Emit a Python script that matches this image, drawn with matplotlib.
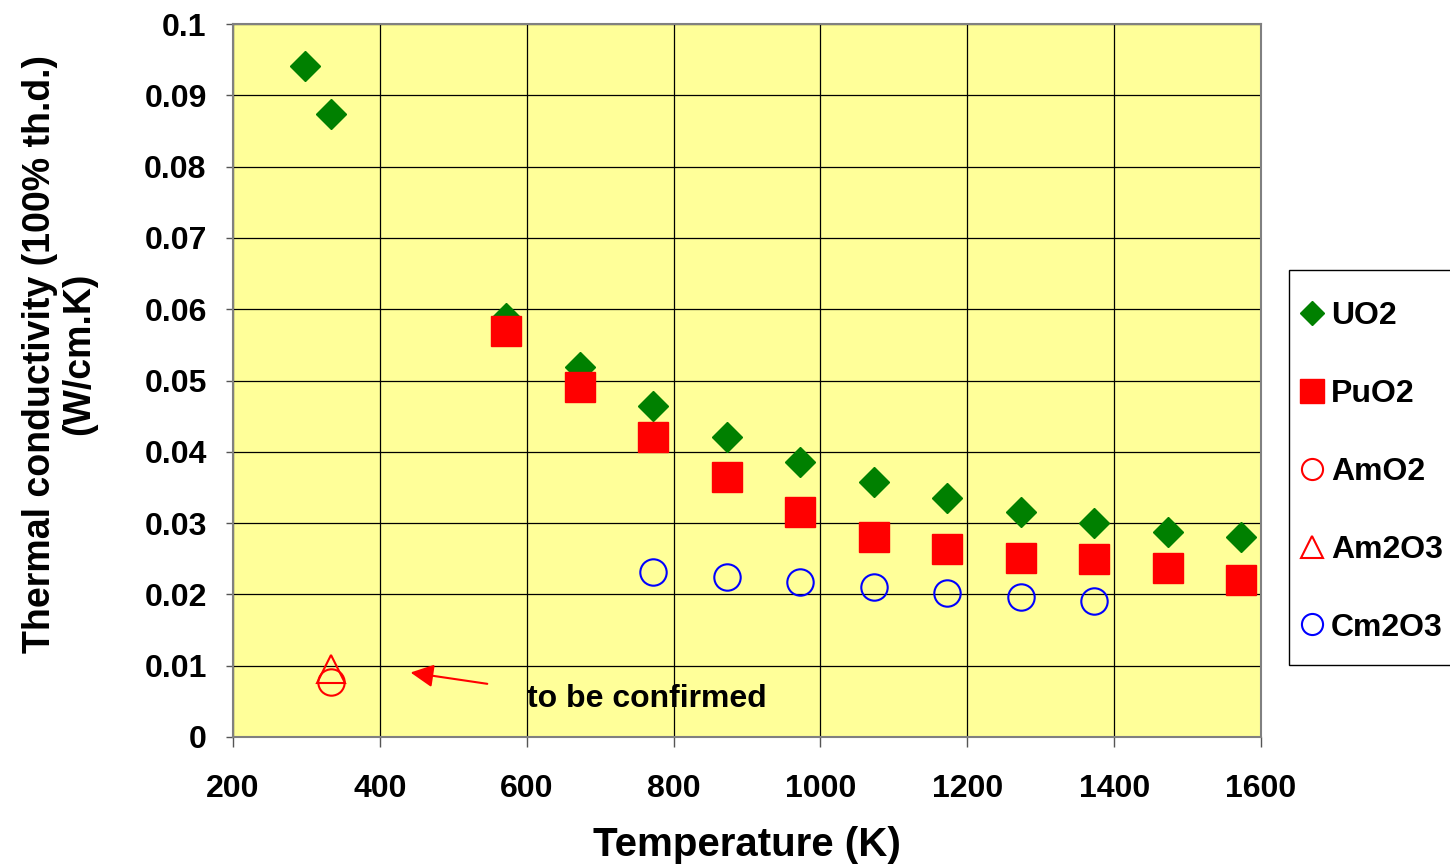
import numpy as np
import matplotlib
matplotlib.use('Agg')
import matplotlib.pyplot as plt
from matplotlib.patches import Rectangle

plt.rcParams['font.family'] = ['Liberation Sans', 'DejaVu Sans']
plt.rcParams['font.weight'] = 'bold'

# dados
temp_uo2 = [298, 333, 572, 673, 772, 873, 972, 1073, 1172, 1273, 1373, 1473, 1573]
k_uo2 = [0.0941, 0.0874, 0.0588, 0.0519, 0.0464, 0.0421, 0.0386, 0.0358, 0.0335, 0.0315, 0.0300, 0.0288, 0.0280]

temp_puo2 = [572, 673, 772, 873, 972, 1073, 1172, 1273, 1373, 1473, 1573]
k_puo2 = [0.0569, 0.0491, 0.0421, 0.0364, 0.0315, 0.0281, 0.0263, 0.0251, 0.0249, 0.0237, 0.0220]

temp_amo2 = [333]
k_amo2 = [0.0077]

temp_am2o3 = [333]
k_am2o3 = [0.0096]

temp_cm2o3 = [772, 873, 972, 1073, 1172, 1273, 1373]
k_cm2o3 = [0.0232, 0.0225, 0.0217, 0.0211, 0.0202, 0.0197, 0.0191]

fig = plt.figure(figsize=(14.5, 8.64), dpi=100)
ax = fig.add_axes([0.1607, 0.147, 0.7090, 0.8252])
ax.set_facecolor('#FFFF99')

ax.plot(temp_uo2, k_uo2, 'D', color='#008000', ms=15, mec='#008000', label='UO2', zorder=3)
ax.plot(temp_puo2, k_puo2, 's', color='#FF0000', ms=21, mec='#FF0000', label='PuO2', zorder=3)
ax.plot(temp_amo2, k_amo2, 'o', mfc='none', mec='#FF0000', mew=1.5, ms=19, label='AmO2', zorder=3)
ax.plot(temp_am2o3, k_am2o3, '^', mfc='none', mec='#FF0000', mew=1.5, ms=20, label='Am2O3', zorder=3)
ax.plot(temp_cm2o3, k_cm2o3, 'o', mfc='none', mec='#0000FF', mew=1.5, ms=19, label='Cm2O3', zorder=3)

ax.set_xlim(200, 1600)
ax.set_ylim(0, 0.1)
ax.set_xticks(np.arange(200, 1601, 200))
ax.set_yticks(np.arange(0, 0.101, 0.01))
ax.set_yticklabels(['0', '0.01', '0.02', '0.03', '0.04', '0.05', '0.06', '0.07', '0.08', '0.09', '0.1'])
ax.grid(True, color='black', lw=0.9, zorder=1)
ax.set_axisbelow(True)
ax.tick_params(axis='x', direction='out', length=7, width=1, pad=20, labelsize=23, colors='#555555', labelcolor='black')
ax.tick_params(axis='y', direction='out', length=5, width=1, pad=14, labelsize=23, colors='#555555', labelcolor='black')
for s in ax.spines.values():
    s.set_color('#808080')
    s.set_linewidth(1.5)

# seta e texto
ax.annotate('', xy=(438, 0.0091), xytext=(550, 0.0074),
            arrowprops=dict(arrowstyle='-|>', color='#FF0000', lw=1.5, mutation_scale=35))
ax.text(600, 0.0053, 'to be confirmed', fontsize=23, fontweight='bold', ha='left', va='center')

fig.text(0.515, 0.022, 'Temperature (K)', fontsize=29, fontweight='bold', ha='center', va='center')
fig.text(0.041, 0.59, 'Thermal conductivity (100% th.d.)\n(W/cm.K)', fontsize=27, fontweight='bold',
         rotation=90, ha='center', va='center', multialignment='center', linespacing=1.1)

# caixa da legenda
fig.patches.append(Rectangle((1289 / 1450, 1 - 665 / 864), 0.2, (665 - 270) / 864,
                             transform=fig.transFigure, facecolor='white', edgecolor='black',
                             lw=1, zorder=0))

leg = fig.legend(loc='upper left', bbox_to_anchor=(1302 / 1450, 1 - 301 / 864), fontsize=23,
                 frameon=False, borderaxespad=0, borderpad=0,
                 labelspacing=1.5, handlelength=0.6, handletextpad=0.3, markerscale=0.8)

plt.savefig('out.png', dpi=100)
